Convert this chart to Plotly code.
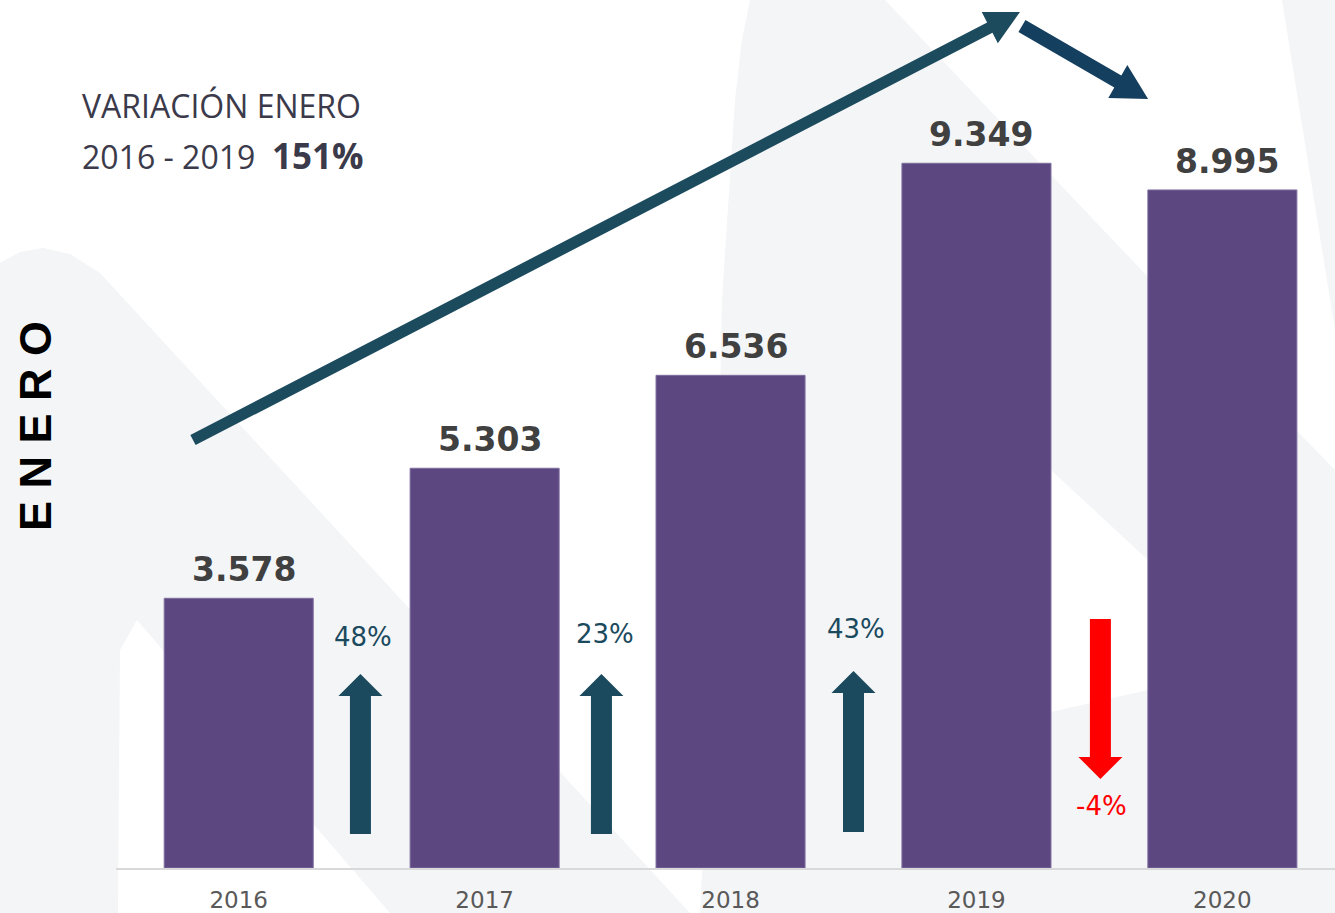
import plotly.graph_objects as go

# --- data -------------------------------------------------------------
years = ["2016", "2017", "2018", "2019", "2020"]
values = [3578, 5303, 6536, 9349, 8995]
value_labels = ["3.578", "5.303", "6.536", "9.349", "8.995"]
title_lines = ["VARIACIÓN ENERO", "2016 - 2019  <b><span style='font-size:35px'>151%</span></b>"]
side_label = "E N E R O"

# year-over-year change, shown between the bars
changes = [round((b / a - 1) * 100) for a, b in zip(values[:-1], values[1:])]
change_labels = [f"{c}%" for c in changes]

# --- geometry / style ---------------------------------------------------
W, H = 1335, 913
M_L, M_B = 116, 45
PLOT_W, PLOT_H = W - M_L, H - M_B
X0, X1 = -0.499, 4.458
Y_MAX = 11515

PURPLE = "#5C4781"
TEAL = "#1B4A5E"
NAVY = "#153F5F"
RED = "#FF0000"
WASH = "#F4F5F7"


def to_px(x, y):
    return M_L + (x - X0) / (X1 - X0) * PLOT_W, PLOT_H - y / Y_MAX * PLOT_H


def to_data(px, py):
    return X0 + (px - M_L) / PLOT_W * (X1 - X0), (PLOT_H - py) / PLOT_H * Y_MAX


def px_to_paper(px, py):
    return (px - M_L) / PLOT_W, (PLOT_H - py) / PLOT_H


def arrow_path(tail, tip, shaft, head_w, head_l):
    """Block arrow between two data points; widths are in pixels."""
    tx, ty = to_px(*tail)
    hx, hy = to_px(*tip)
    dx, dy = hx - tx, hy - ty
    n = (dx * dx + dy * dy) ** 0.5
    ux, uy = dx / n, dy / n
    nx, ny = -uy, ux
    bx, by = hx - ux * head_l, hy - uy * head_l
    pts = [
        (tx + nx * shaft / 2, ty + ny * shaft / 2),
        (bx + nx * shaft / 2, by + ny * shaft / 2),
        (bx + nx * head_w / 2, by + ny * head_w / 2),
        (hx, hy),
        (bx - nx * head_w / 2, by - ny * head_w / 2),
        (bx - nx * shaft / 2, by - ny * shaft / 2),
        (tx - nx * shaft / 2, ty - ny * shaft / 2),
    ]
    pts = [to_data(px, py) for px, py in pts]
    return "M" + " L".join(f"{x:.4f},{y:.2f}" for x, y in pts) + " Z"


def wash_path(points):
    pts = [px_to_paper(px, py) for px, py in points]
    return "M" + " L".join(f"{x:.4f},{y:.4f}" for x, y in pts) + " Z"


fig = go.Figure()
fig.add_trace(
    go.Bar(
        x=list(range(len(years))),
        y=values,
        width=0.606,
        marker=dict(color=PURPLE, line=dict(color="#7E6E9E", width=1)),
        hoverinfo="skip",
        showlegend=False,
    )
)

shapes = []

# faint background watermark
wash = [
    [(0, 263), (20, 252), (43, 248), (70, 254), (100, 273), (690, 913), (0, 913)],
    [(750, 0), (885, 0), (1148, 277), (1335, 470), (1335, 913), (700, 913),
     (716, 600), (722, 300), (735, 100), (742, 40)],
    [(1282, 0), (1335, 0), (1335, 330)],
]
for poly in wash:
    shapes.append(dict(type="path", path=wash_path(poly), xref="paper", yref="paper",
                       fillcolor=WASH, line=dict(width=0), layer="below"))
cutouts = [
    [(137, 620), (120, 650), (118, 913), (390, 913)],
    [(1051, 470), (1148, 560), (1148, 690), (1051, 712)],
]
for poly in cutouts:
    shapes.append(dict(type="path", path=wash_path(poly), xref="paper", yref="paper",
                       fillcolor="white", line=dict(width=0), layer="below"))

# small change arrows between bars (x, tail y, tip y) in data units
small_arrows = [(0.495, 451, 2574), (1.475, 451, 2574), (2.500, 478, 2613), (3.504, 3303, 1181)]
for (x, y0, y1), c in zip(small_arrows, changes):
    shapes.append(dict(type="path", path=arrow_path((x, y0), (x, y1), 21, 44, 22),
                       fillcolor=RED if c < 0 else TEAL, line=dict(width=0)))

# big trend arrows
shapes.append(dict(type="path", path=arrow_path((-0.186, 5678), (3.177, 11356), 11.5, 35, 34),
                   fillcolor="#1C4B5E", line=dict(width=0)))
shapes.append(dict(type="path", path=arrow_path((3.185, 11170), (3.698, 10202), 14, 38, 35),
                   fillcolor=NAVY, line=dict(width=0)))

annotations = []
for i, (v, lab) in enumerate(zip(values, value_labels)):
    annotations.append(dict(x=i, y=v, text=lab, showarrow=False, yanchor="bottom", yshift=7, xshift=5,
                            font=dict(family="DejaVu Sans", size=33, color="#404040", weight="bold")))

label_pos = [(0.505, 3064), (1.49, 3104), (2.51, 3171), (3.51, 822)]
for (x, y), lab, c in zip(label_pos, change_labels, changes):
    annotations.append(dict(x=x, y=y, text=lab, showarrow=False,
                            font=dict(family="DejaVu Sans", size=26, color=RED if c < 0 else TEAL)))

for text, py in zip(title_lines, [106, 155]):
    annotations.append(dict(x=px_to_paper(80, 0)[0], y=px_to_paper(0, py)[1], xref="paper", yref="paper",
                            xanchor="left", yanchor="middle", text=text, showarrow=False,
                            font=dict(family="Open Sans", size=32, color="#3B3A4A")))

annotations.append(dict(x=px_to_paper(35, 0)[0], y=px_to_paper(0, 426)[1], xref="paper", yref="paper",
                        xanchor="center", yanchor="middle",
                        text=f"<b>{side_label}</b>", textangle=-90, showarrow=False,
                        font=dict(family="Liberation Sans", size=45, color="#000000")))

fig.update_layout(
    width=W,
    height=H,
    autosize=False,
    margin=dict(l=M_L, r=0, t=0, b=M_B, pad=0),
    paper_bgcolor="white",
    plot_bgcolor="rgba(0,0,0,0)",
    shapes=shapes,
    annotations=annotations,
    bargap=0.4,
)
fig.update_xaxes(
    range=[X0, X1],
    tickvals=list(range(len(years))),
    ticktext=years,
    showgrid=False,
    zeroline=False,
    showline=True,
    linecolor="#D9D9D9",
    linewidth=2,
    ticks="",
    ticklabelstandoff=10,
    automargin=False,
    tickfont=dict(family="DejaVu Sans", size=23, color="#595959"),
)
fig.update_yaxes(range=[0, Y_MAX], visible=False, showgrid=False, zeroline=False, automargin=False)

fig.write_html(
    "out.html",
    config={"displayModeBar": False},
    post_script="document.body.style.margin = '0';",
)
